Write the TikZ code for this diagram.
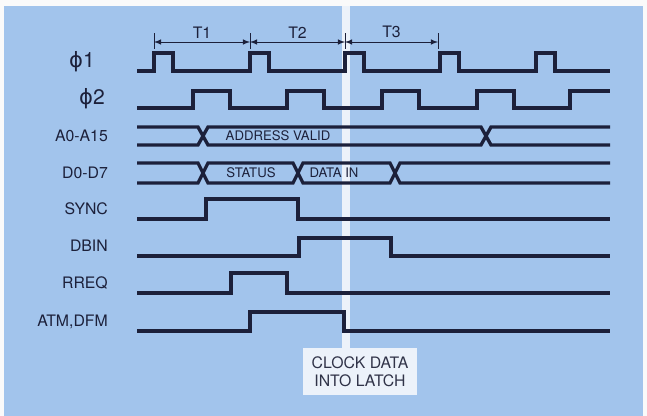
\documentclass[tikz,border=0pt]{standalone}
\usepackage{fontspec}
\setmainfont{TeX Gyre Heros}
\newfontfamily\greekfont{DejaVu Sans}
\definecolor{panel}{RGB}{162,196,236}
\definecolor{trace}{RGB}{28,32,58}
\definecolor{pale}{RGB}{236,242,250}
\begin{document}
\begin{tikzpicture}[x=0.02cm,y=-0.02cm,
    sig/.style={trace,line width=1.9pt},
    lbl/.style={anchor=east,text=trace,font=\fontsize{9}{10}\selectfont},
    tag/.style={text=trace,inner sep=1pt,font=\fontsize{7.5}{9}\selectfont}]
    \useasboundingbox (0,0) rectangle (647,416);
    \fill[white!96!gray] (0,0) rectangle (647,416);
    \fill[panel] (4,6) rectangle (643,416);
    % latch strobe
    \node[fill=pale,text=trace!80!gray,align=center,minimum width=2.28cm,
      minimum height=0.94cm,font=\fontsize{9}{10.5}\selectfont] (latch) at (360,371.5)
      {CLOCK DATA\\INTO LATCH};
    \fill[pale] (342,6) rectangle (latch.north-|350,0);
    % cycle marks
    \foreach \t in {154,250,345,438}
    \draw[trace,thin] (\t,33) -- (\t,49);
    \foreach \a/\b/\n in {154/250/1,250/345/2,345/438/3}
    \draw[trace,thin,latex-latex] (\a,42) -- (\b,42)
    node[midway,above,tag,font=\fontsize{9}{10}\selectfont,yshift=1pt] {T\n};
    % labels
    \node[lbl,font=\fontsize{12}{13}\selectfont] (phione) at (101,62) {{\greekfont ϕ}1};
    \node[lbl,font=\fontsize{12}{13}\selectfont] (phitwo) at (111,99) {{\greekfont ϕ}2};
    \node[lbl] (addr) at (114,136) {A0-A15};
    \node[lbl] (data) at (114,173) {D0-D7};
    \node[lbl] (sync) at (114,209) {SYNC};
    \node[lbl] (dbin) at (114,246) {DBIN};
    \node[lbl] (rreq) at (114,283) {RREQ};
    \node[lbl] (atm) at (114,322) {ATM,DFM};
    % clocks
    \draw[sig] (137,71) \foreach \x in {154,250,345,440,536}
      { -- (\x,71) -- (\x,53) -- (\x+19,53) -- (\x+19,71) } -- (610,71);
    \draw[sig] (137,108) \foreach \x in {193,287,382,477}
      { -- (\x,108) -- (\x,91) -- (\x+37,91) -- (\x+37,108) }
      -- (570,108) -- (570,91) -- (610,91);
    % buses
    \draw[sig] (137,127) -- (198,127) -- (208,145) -- (481,145) -- (491,127) -- (610,127);
    \draw[sig] (137,145) -- (198,145) -- (208,127) -- (481,127) -- (491,145) -- (610,145);
    \node[tag] (valid) at (278,136) {ADDRESS VALID};
    \draw[sig] (137,163) -- (198,163) -- (208,183) -- (293,183) -- (303,163)
      -- (390,163) -- (400,183) -- (610,183);
    \draw[sig] (137,183) -- (198,183) -- (208,163) -- (293,163) -- (303,183)
      -- (390,183) -- (400,163) -- (610,163);
    \node[tag] (status) at (251,173) {STATUS};
    \node[tag] (datain) at (334,173) {DATA IN};
    % control lines
    \draw[sig] (137,219) -- (206,219) -- (206,199) -- (298,199) -- (298,219) -- (610,219);
    \draw[sig] (137,256) -- (299,256) -- (299,238) -- (391,238) -- (391,256) -- (610,256);
    \draw[sig] (137,293) -- (231,293) -- (231,273) -- (287,273) -- (287,293) -- (610,293);
    \draw[sig] (137,331) -- (250,331) -- (250,312) -- (344,312) -- (344,331) -- (610,331);
\end{tikzpicture}
\end{document}
